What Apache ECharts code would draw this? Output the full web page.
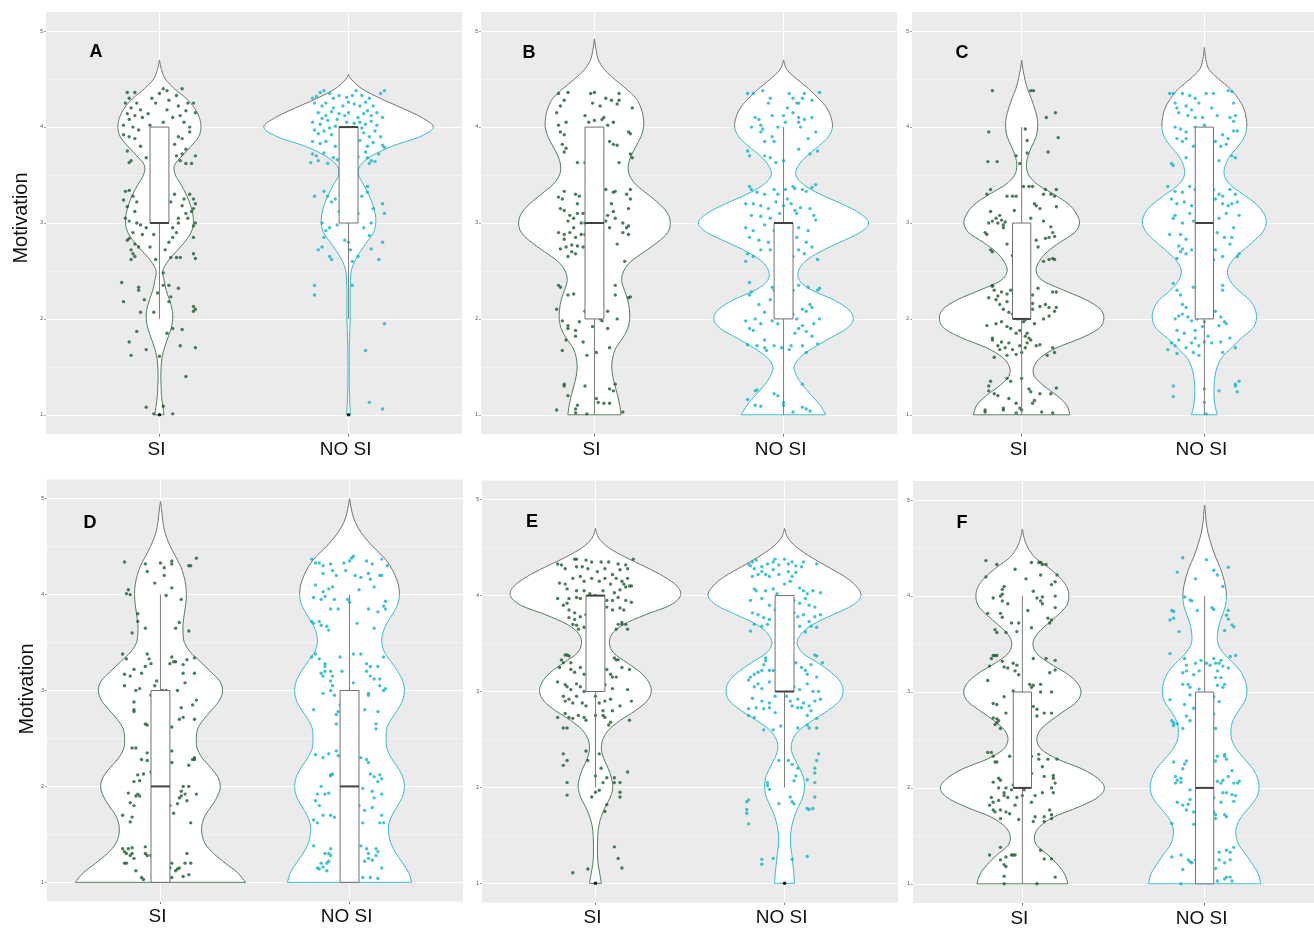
<!DOCTYPE html>
<html>
<head>
<meta charset="utf-8">
<script src="https://cdn.jsdelivr.net/npm/echarts@6/dist/echarts.min.js"></script>
<style>
html, body { margin: 0; padding: 0; background: #ffffff; }
#chart { width: 1314px; height: 928px; }
</style>
</head>
<body>
<div id="chart"></div>
<script>
// ---- groups, panels, ticks ----
const CATEGORIES = ['SI', 'NO SI'];
const PANEL_LETTERS = ['A', 'B', 'C', 'D', 'E', 'F'];
const Y_TICKS = [1, 2, 3, 4, 5];
const Y_MINOR = [1.5, 2.5, 3.5, 4.5];

// ---- violin profiles: relative density (max 256) at Motivation = 1.0, 1.1, 1.2 ... ----
const VIOLIN_A_SI   = [14,10,6,5,4,5,8,15,25,35,40,38,30,20,14,10,25,50,75,95,102,100,92,80,65,48,45,68,95,118,125,120,105,80,45,18,6];
const VIOLIN_A_NOSI = [6,4,3,2,2,2,2,2,3,4,5,5,5,5,6,8,18,35,55,75,82,80,72,60,45,30,35,70,130,215,255,220,160,95,40,8];
const VIOLIN_B_SI   = [80,76,70,62,55,52,55,65,85,100,106,105,100,90,82,88,110,150,190,220,228,220,195,160,125,105,102,110,125,140,148,147,140,125,95,60,30,12,5];
const VIOLIN_B_NOSI = [127,110,85,60,40,32,50,90,140,190,210,195,150,85,48,45,65,110,170,230,256,230,175,110,60,37,45,70,105,135,147,143,130,105,75,40,10];
const VIOLIN_C_SI   = [150,140,110,70,40,38,60,110,185,240,256,245,200,130,65,45,55,80,120,165,180,170,145,100,50,22,15,20,32,45,50,48,40,30,18,10,4];
const VIOLIN_C_NOSI = [40,33,30,30,33,40,55,85,115,150,162,158,140,105,80,72,85,115,150,180,193,185,160,120,80,62,65,80,105,125,132,130,122,105,80,45,15,5];
const VIOLIN_D_SI   = [256,232,195,160,135,125,125,135,155,172,180,172,150,125,110,108,112,130,155,178,187,178,150,120,90,72,68,68,72,76,78,76,70,60,45,30,18,10,6,3];
const VIOLIN_D_NOSI = [187,178,160,140,125,118,118,128,145,160,165,160,145,125,112,110,112,125,145,160,165,160,145,125,105,97,100,112,130,145,150,147,137,122,100,70,45,25,12,5];
const VIOLIN_E_SI   = [18,13,8,6,6,7,10,18,30,45,52,48,38,25,18,22,40,75,120,155,168,160,135,95,55,42,50,85,150,225,256,245,205,150,90,40,10];
const VIOLIN_E_NOSI = [30,28,25,22,18,18,22,30,42,55,60,57,45,30,20,25,45,85,130,165,176,168,140,100,55,38,50,85,145,205,230,215,180,130,80,38,10];
const VIOLIN_F_SI   = [142,132,110,80,45,38,55,100,175,235,256,235,185,110,60,45,55,88,130,170,183,170,135,85,45,33,45,75,110,138,145,138,115,80,40,18,6];
const VIOLIN_F_NOSI = [175,168,150,130,108,98,100,115,140,162,170,165,150,125,100,85,82,88,105,125,132,128,115,90,60,42,40,45,55,65,68,65,58,48,35,24,15,8,4,2];

// violin tip (maximum Motivation) for [SI, NO SI]
const TIP_A = [4.70, 4.55];
const TIP_B = [4.92, 4.70];
const TIP_C = [4.70, 4.83];
const TIP_D = [4.97, 5.00];
const TIP_E = [4.70, 4.70];
const TIP_F = [4.70, 4.95];

// box plots [lower whisker, Q1, median, Q3, upper whisker] for [SI, NO SI]
const BOX_A = [[2, 3, 3, 4, 4], [2, 3, 4, 4, 4]];
const BOX_B = [[1, 2, 3, 4, 4], [1, 2, 3, 3, 4]];
const BOX_C = [[1, 2, 2, 3, 4], [1, 2, 3, 4, 4]];
const BOX_D = [[1, 1, 2, 3, 4], [1, 1, 2, 3, 4]];
const BOX_E = [[2, 3, 4, 4, 4], [2, 3, 3, 4, 4]];
const BOX_F = [[1, 2, 2, 3, 4], [1, 1, 2, 3, 4]];

// outliers for [SI, NO SI]
const OUTLIERS_A = [[1], [1]];
const OUTLIERS_B = [[], []];
const OUTLIERS_C = [[], []];
const OUTLIERS_D = [[], []];
const OUTLIERS_E = [[1], [1]];
const OUTLIERS_F = [[], []];

// jittered responses: [horizontal offset from the group, Motivation]
const POINTS_A_SI = [[-0.17,4.36],[-0.13,4.36],[-0.16,4.3],[-0.18,4.25],[-0.12,4.25],[-0.15,4.2],[-0.1,4.18],[-0.17,4.14],[-0.13,4.12],[-0.09,4.1],[-0.16,4.08],[-0.19,4.02],[-0.14,4.0],[-0.11,3.97],[-0.19,3.92],[-0.16,3.9],[-0.13,3.88],[-0.1,3.8],[-0.17,3.75],[-0.15,3.65],[-0.16,3.63],[-0.07,3.68],[0.02,4.4],[0.04,4.38],[0.09,4.33],[0.12,4.4],[0.05,4.28],[0.1,4.22],[0.15,4.25],[0.18,4.25],[0.19,4.15],[0.14,4.17],[0.11,4.12],[0.07,4.1],[0.02,4.05],[-0.04,4.3],[-0.02,4.25],[0.13,4.05],[0.16,4.0],[0.16,3.95],[0.12,3.88],[0.1,3.9],[0.08,3.82],[0.14,3.77],[0.12,3.72],[0.11,3.65],[0.14,3.62],[0.17,3.62],[0.19,3.7],[0.09,3.7],[-0.05,4.02],[0.0,4.35],[-0.06,4.14],[0.04,4.18],
  [-0.19,3.24],[-0.18,3.33],[-0.16,3.34],[-0.14,3.28],[-0.12,3.22],[-0.17,3.17],[-0.13,3.12],[-0.18,3.05],[-0.16,3.02],[-0.12,3.0],[-0.1,2.98],[-0.07,2.95],[-0.14,2.9],[-0.09,2.88],[-0.16,2.84],[-0.17,2.82],[-0.13,2.78],[-0.11,2.75],[-0.15,2.72],[-0.14,2.68],[-0.13,2.65],[-0.15,2.62],[-0.03,2.88],[-0.05,2.75],[-0.02,2.62],[0.03,2.72],[0.06,2.64],[0.09,2.64],[0.11,2.64],[0.18,2.68],[0.19,2.63],[0.18,2.85],[0.19,3.0],[0.17,3.12],[0.19,3.2],[0.18,3.25],[0.16,3.3],[0.18,3.15],[0.13,3.25],[0.12,3.18],[0.14,3.1],[0.15,3.05],[0.1,3.0],[0.07,2.95],[0.05,2.8],[0.07,2.85],[0.09,2.9],[0.02,3.05],[0.04,3.15],[0.06,3.22],[0.1,3.05],[0.08,3.3],[0.18,2.97],
  [-0.2,2.38],[-0.19,2.18],[-0.11,2.33],[-0.11,2.3],[-0.08,2.2],[-0.1,2.07],[-0.12,1.87],[-0.16,1.76],[-0.15,1.62],[-0.07,1.68],[-0.03,2.07],[-0.01,2.27],[0.02,2.35],[0.05,2.35],[0.06,2.23],[0.05,2.18],[0.07,1.9],[0.04,1.85],[0.1,2.32],[0.11,1.72],[0.12,1.89],[0.18,2.13],[0.18,2.08],[0.19,2.1],[0.19,1.7],[0.0,1.61],[0.02,2.48],
  [-0.07,1.08],[0.02,1.09],[0.07,1.01],[0.14,1.4],[-0.03,1.01]];
const POINTS_A_NOSI = [[-0.19,4.3],[-0.17,4.32],[-0.15,4.36],[-0.13,4.38],[-0.1,4.35],[-0.08,4.3],[-0.05,4.33],[-0.01,4.31],[0.04,4.38],[0.07,4.33],[0.11,4.3],[0.17,4.35],[0.19,4.38],[-0.18,4.25],[-0.14,4.22],[-0.12,4.25],[-0.08,4.2],[-0.03,4.22],[0.0,4.26],[0.03,4.24],[0.06,4.22],[0.09,4.26],[0.13,4.22],[-0.16,4.15],[-0.12,4.12],[-0.09,4.16],[-0.05,4.14],[-0.02,4.12],[0.05,4.1],[0.08,4.14],[0.1,4.17],[0.12,4.12],[0.15,4.15],[-0.19,4.05],[-0.15,4.03],[-0.11,4.07],[-0.06,4.08],[-0.01,4.05],[0.03,4.04],[0.06,4.05],[0.09,4.03],[0.12,4.06],[0.15,4.02],[0.18,4.1],[-0.18,3.97],[-0.16,3.93],[-0.13,3.96],[-0.09,3.92],[-0.04,3.95],[0.01,3.9],[0.04,3.97],[0.08,3.94],[0.11,3.9],[0.14,3.96],[0.17,3.9],[-0.19,3.85],[-0.15,3.83],[-0.12,3.85],[-0.07,3.8],[-0.02,3.85],[0.02,3.82],[0.06,3.86],[0.1,3.8],[0.13,3.84],[0.18,3.81],[0.19,3.79],[-0.19,3.72],[-0.17,3.7],[-0.13,3.73],[-0.08,3.68],[-0.04,3.75],[0.01,3.72],[0.05,3.69],[0.09,3.74],[0.1,3.68],[0.12,3.65],[0.16,3.72],[-0.2,3.63],[-0.16,3.65],[-0.11,3.62],[-0.06,3.66],[0.03,3.63],[0.11,3.62],[0.14,3.64],[-0.07,4.01],[0.0,4.15],[-0.1,3.99],[0.07,3.99],[-0.14,4.09],[0.02,4.33],
  [-0.18,3.28],[-0.13,3.33],[-0.11,3.28],[-0.09,3.22],[-0.05,3.12],[-0.14,3.0],[-0.06,2.98],[-0.1,2.95],[-0.13,2.85],[-0.14,2.75],[-0.16,2.72],[-0.1,2.65],[-0.09,2.62],[-0.02,2.82],[0.0,2.8],[0.01,2.72],[0.05,2.65],[0.05,3.1],[0.1,3.38],[0.1,3.32],[0.13,3.15],[0.12,3.0],[0.11,2.87],[0.12,2.73],[0.16,2.62],[0.18,2.8],[0.19,3.1],[0.18,3.2],[0.07,3.28],[-0.03,3.3],[0.02,2.6],[-0.12,2.92],[0.08,2.95],[-0.07,3.25],
  [-0.18,2.35],[-0.18,2.25],[0.02,2.35],[0.19,1.95],[0.09,1.67],[0.11,1.13],[0.18,1.06]];
const POINTS_B_SI = [[-0.19,4.35],[-0.14,4.36],[-0.16,4.28],[-0.18,4.22],[-0.2,4.15],[-0.15,4.05],[-0.19,4.02],[-0.18,3.95],[-0.16,3.92],[-0.17,3.82],[-0.15,3.78],[-0.16,3.74],[-0.05,4.12],[-0.02,4.35],[-0.01,4.25],[0.0,4.36],[0.03,4.22],[0.06,4.3],[0.09,4.28],[0.13,4.28],[0.13,4.35],[0.12,4.24],[0.2,4.2],[0.04,4.08],[0.05,4.1],[0.07,4.02],[0.1,4.05],[-0.03,4.05],[0.0,4.07],[0.08,3.85],[0.1,3.82],[0.12,3.81],[0.18,3.95],[0.19,3.93],[0.19,3.72],[0.2,3.68],[0.13,3.63],[-0.09,3.63],[-0.05,3.63],
  [-0.19,3.27],[-0.17,3.25],[-0.16,3.33],[-0.18,3.15],[-0.16,3.13],[-0.1,3.3],[-0.08,3.28],[-0.09,3.2],[-0.13,3.08],[-0.09,3.1],[-0.11,3.05],[-0.14,3.02],[-0.19,2.9],[-0.16,2.88],[-0.13,2.9],[-0.1,2.85],[-0.07,2.88],[-0.05,2.88],[-0.18,2.73],[-0.15,2.75],[-0.12,2.77],[-0.09,2.76],[-0.06,2.75],[-0.12,2.7],[-0.1,2.68],[-0.16,2.83],[-0.14,2.65],[0.06,3.35],[0.1,3.32],[0.11,3.33],[0.09,3.2],[0.1,3.12],[0.11,3.05],[0.07,3.08],[0.06,3.02],[0.04,3.0],[0.08,2.95],[0.15,3.0],[0.17,2.95],[0.18,2.97],[0.15,2.9],[0.18,2.88],[0.18,3.15],[0.19,3.25],[0.19,3.35],[0.17,3.3],[0.16,2.6],[-0.05,3.0],[-0.03,3.35],[0.0,3.25],[0.02,2.8],[-0.11,2.95],[-0.07,3.0],[0.12,2.78],[-0.06,3.1],
  [-0.19,2.35],[-0.18,2.33],[-0.14,2.25],[-0.11,2.26],[-0.2,2.1],[-0.17,1.98],[-0.14,1.93],[-0.14,1.9],[-0.1,1.88],[-0.15,1.78],[-0.17,1.67],[-0.08,1.97],[-0.06,1.76],[-0.04,1.62],[0.01,1.65],[-0.05,2.08],[-0.01,1.92],[0.03,2.0],[0.04,1.98],[0.07,2.08],[0.07,1.9],[0.11,2.35],[0.11,2.25],[0.18,2.22],[0.19,2.23],[0.12,2.0],[0.08,1.7],[-0.1,1.82],
  [-0.16,1.3],[-0.16,1.32],[-0.05,1.3],[-0.09,1.1],[-0.1,1.06],[-0.2,1.05],[-0.1,1.02],[-0.04,1.01],[0.01,1.17],[0.02,1.13],[0.05,1.12],[0.08,1.12],[0.08,1.27],[0.1,1.25],[0.11,1.32],[0.15,1.03],[-0.14,1.2]];
const POINTS_B_NOSI = [[-0.19,4.35],[-0.16,4.35],[-0.11,4.38],[-0.07,4.3],[0.03,4.35],[0.05,4.3],[0.08,4.25],[0.1,4.3],[0.11,4.35],[0.19,4.36],[-0.15,4.1],[-0.13,4.08],[-0.12,4.02],[-0.12,3.95],[-0.11,3.98],[-0.06,4.12],[-0.06,3.9],[-0.05,3.85],[-0.03,4.0],[0.0,4.12],[0.01,4.05],[0.05,4.15],[0.08,4.1],[0.08,4.05],[0.09,4.0],[0.11,4.08],[0.15,4.1],[0.17,3.95],[0.18,3.75],[-0.19,3.75],[-0.18,3.7],[-0.1,3.7],[-0.07,3.68],[-0.04,3.63],[-0.1,3.85],[0.0,3.65],[0.08,3.77],[0.14,3.72],[0.13,3.88],[0.07,4.25],[-0.08,4.25],[0.02,4.2],[0.15,4.28],[-0.17,4.0],
  [-0.18,3.38],[-0.17,3.35],[-0.14,3.32],[-0.1,3.3],[-0.05,3.35],[-0.03,3.3],[0.01,3.35],[0.02,3.25],[0.05,3.38],[0.06,3.36],[0.1,3.35],[0.12,3.33],[0.15,3.37],[0.17,3.4],[-0.2,3.2],[-0.16,3.2],[-0.12,3.18],[-0.08,3.15],[-0.04,3.22],[0.0,3.18],[0.04,3.2],[0.06,3.13],[0.09,3.16],[0.14,3.15],[0.16,3.08],[-0.17,3.08],[-0.12,3.07],[-0.07,3.05],[-0.02,3.1],[0.07,3.1],[0.17,3.03],[-0.2,2.95],[-0.16,2.92],[-0.1,2.98],[-0.05,2.92],[-0.02,2.97],[0.08,2.95],[0.13,2.92],[-0.18,2.85],[-0.13,2.82],[-0.08,2.8],[-0.04,2.75],[-0.07,2.72],[-0.03,2.7],[0.03,2.78],[0.07,2.85],[0.12,2.8],[0.15,2.75],[-0.19,2.68],[-0.16,2.65],[-0.12,2.72],[0.05,2.65],[0.11,2.68],[0.18,2.62],[-0.2,2.6],[0.08,2.72],
  [-0.18,2.38],[-0.17,2.28],[-0.18,2.25],[-0.06,2.33],[-0.05,2.3],[0.01,2.25],[0.05,2.3],[0.08,2.35],[0.13,2.33],[0.19,2.32],[0.18,2.3],[-0.13,2.15],[-0.1,2.07],[-0.15,2.0],[-0.2,1.98],[-0.18,1.9],[-0.16,1.88],[-0.12,1.95],[-0.06,1.98],[-0.03,1.95],[0.05,2.05],[0.07,2.0],[0.1,2.1],[0.12,2.08],[0.14,2.15],[0.15,2.12],[0.19,2.0],[0.1,1.93],[0.08,1.9],[0.06,1.85],[0.12,1.87],[0.15,1.82],[-0.19,1.73],[-0.14,1.72],[-0.1,1.7],[-0.05,1.72],[-0.01,1.7],[0.03,1.68],[0.04,1.72],[0.12,1.65],[0.18,1.74],[-0.09,1.67],[-0.1,1.78],[0.1,1.72],[-0.07,2.2],[0.0,2.12],[0.16,1.95],
  [-0.19,1.16],[-0.15,1.25],[-0.14,1.26],[-0.15,1.1],[-0.12,1.09],[-0.05,1.22],[-0.03,1.2],[0.0,1.1],[0.0,1.13],[0.05,1.03],[0.1,1.08],[0.14,1.04],[0.1,1.32],[0.12,1.06]];
const POINTS_C_SI = [[-0.16,4.38],[0.05,4.38],[0.065,4.38],[0.185,4.15],[0.135,4.1],[-0.18,3.95],[0.02,3.98],[0.2,3.89],[0.03,3.86],[0.145,3.74],[0.03,3.73],[-0.185,3.64],[-0.134,3.64],[-0.03,3.7],[-0.01,3.62],
  [-0.19,3.3],[-0.17,3.35],[-0.08,3.28],[-0.05,3.28],[-0.03,3.28],[0.01,3.38],[0.04,3.38],[0.06,3.38],[0.13,3.35],[0.19,3.35],[0.16,3.3],[0.18,3.28],[0.12,3.3],[0.07,3.2],[0.08,3.18],[0.1,3.15],[0.19,3.17],[-0.17,3.12],[-0.12,3.08],[-0.18,3.0],[-0.16,3.02],[-0.14,3.05],[-0.13,3.0],[-0.11,3.03],[-0.1,2.98],[-0.09,3.01],[-0.1,2.95],[-0.19,2.88],[-0.2,2.9],[-0.04,3.13],[-0.02,2.98],[0.12,3.02],[0.16,2.96],[0.17,2.9],[0.13,2.84],[0.15,2.85],[0.18,2.86],[0.08,2.82],[0.09,2.75],[0.15,2.62],[0.18,2.62],[0.17,2.63],[0.12,2.6],[-0.17,2.72],[-0.16,2.7],[-0.05,2.66],[-0.08,2.78],[0.02,2.9],[0.05,3.05],[-0.03,2.83],
  [-0.16,2.35],[-0.16,2.34],[-0.15,2.3],[-0.13,2.24],[-0.14,2.2],[-0.18,2.22],[-0.11,2.28],[-0.08,2.26],[-0.06,2.3],[-0.03,2.32],[-0.08,2.18],[-0.12,2.15],[-0.1,2.1],[-0.07,2.07],[-0.05,2.05],[-0.04,2.08],[-0.02,2.0],[0.01,1.97],[0.02,1.99],[0.06,2.1],[0.06,2.16],[0.1,2.13],[0.13,2.15],[0.15,2.12],[0.19,2.12],[0.18,2.08],[0.15,2.03],[0.19,2.28],[0.17,2.28],[0.09,2.32],[0.06,2.25],[-0.19,1.93],[-0.14,1.95],[-0.11,1.97],[-0.08,1.92],[-0.06,1.9],[-0.03,1.85],[-0.01,1.88],[0.03,1.85],[0.04,1.8],[0.05,1.78],[0.02,1.82],[-0.16,1.8],[-0.16,1.78],[-0.11,1.76],[-0.07,1.75],[-0.01,1.72],[0.02,1.7],[0.03,1.75],[-0.13,1.72],[-0.09,1.7],[-0.12,1.68],[-0.03,1.63],[0.0,1.65],[0.08,1.72],[0.1,1.73],[0.17,1.7],[0.18,1.65],[0.14,1.62],[-0.15,1.6],[-0.08,1.62],[-0.05,1.68],[0.07,1.95],[0.12,2.0],
  [-0.17,1.35],[-0.18,1.3],[-0.18,1.25],[-0.15,1.22],[-0.13,1.2],[-0.2,1.05],[-0.2,1.03],[-0.1,1.05],[-0.1,1.07],[-0.08,1.38],[-0.06,1.35],[-0.07,1.17],[-0.03,1.12],[-0.01,1.07],[0.0,1.38],[0.0,1.05],[0.04,1.27],[0.05,1.24],[0.06,1.12],[0.07,1.15],[0.1,1.22],[0.11,1.03],[0.16,1.22],[0.19,1.28],[0.17,1.02],[-0.03,1.02]];
const POINTS_C_NOSI = [[-0.19,4.35],[-0.17,4.35],[-0.12,4.35],[-0.08,4.33],[-0.05,4.3],[0.01,4.35],[0.05,4.35],[0.13,4.38],[0.15,4.37],[0.16,4.25],[-0.16,4.25],[-0.15,4.2],[-0.1,4.22],[-0.07,4.18],[-0.03,4.25],[0.04,4.2],[-0.14,4.15],[-0.09,4.12],[-0.05,4.1],[-0.01,4.1],[0.07,4.12],[0.14,4.1],[0.17,4.12],[0.16,4.06],[0.18,3.96],[0.16,3.96],[-0.16,4.0],[-0.13,3.98],[-0.1,3.95],[-0.05,4.0],[0.0,4.02],[0.03,3.98],[0.1,3.92],[0.13,3.88],[-0.15,3.88],[-0.12,3.85],[-0.1,3.88],[-0.06,3.8],[-0.02,3.82],[0.06,3.85],[0.09,3.8],[0.12,3.82],[0.15,3.7],[0.17,3.68],[-0.18,3.62],[-0.1,3.68],[-0.04,3.72],[0.02,3.7],[-0.17,3.6],[0.08,3.65],
  [-0.2,3.38],[-0.16,3.33],[-0.12,3.32],[-0.08,3.38],[-0.05,3.35],[-0.02,3.32],[0.05,3.35],[0.08,3.3],[0.1,3.28],[0.14,3.35],[0.17,3.3],[-0.18,3.25],[-0.15,3.2],[-0.11,3.22],[-0.07,3.18],[0.06,3.25],[0.1,3.2],[0.13,3.18],[0.15,3.2],[0.18,3.22],[-0.17,3.05],[-0.16,3.08],[-0.12,3.0],[-0.06,3.02],[-0.04,2.95],[-0.03,2.98],[0.08,3.05],[0.12,3.1],[0.19,3.08],[-0.19,2.88],[-0.13,2.88],[-0.1,2.83],[-0.14,2.76],[-0.12,2.73],[-0.13,2.7],[-0.1,2.68],[-0.07,2.72],[-0.02,2.78],[0.07,2.9],[0.11,2.85],[0.15,2.85],[0.14,2.78],[0.06,2.72],[0.1,2.65],[0.18,2.65],[0.19,2.68],[-0.15,2.63],[0.05,2.62],[0.03,2.95],[-0.08,3.1],[0.16,2.95],
  [-0.17,2.37],[-0.15,2.3],[-0.13,2.25],[-0.06,2.33],[0.02,2.22],[0.04,2.25],[0.1,2.35],[0.1,2.3],[-0.12,2.15],[-0.1,2.12],[-0.14,2.03],[-0.16,2.0],[-0.12,2.05],[-0.09,2.02],[-0.07,1.98],[-0.04,2.0],[0.0,1.97],[0.06,2.08],[0.09,2.02],[0.11,1.97],[0.12,1.95],[0.08,1.93],[0.14,1.8],[0.17,1.7],[-0.15,1.88],[-0.11,1.85],[-0.05,1.88],[-0.01,1.92],[0.02,1.82],[-0.18,1.75],[-0.16,1.72],[-0.14,1.78],[-0.1,1.7],[-0.07,1.75],[-0.05,1.8],[-0.03,1.72],[0.0,1.76],[0.04,1.75],[0.09,1.76],[-0.2,1.68],[-0.15,1.64],[-0.06,1.65],[-0.03,1.62],[0.1,1.65],
  [-0.17,1.3],[-0.17,1.19],[0.0,1.27],[0.0,1.13],[0.01,1.01],[0.08,1.25],[0.17,1.32],[0.17,1.3],[0.18,1.24],[0.19,1.35]];
const POINTS_D_SI = [[-0.19,4.34],[-0.08,4.32],[0.0,4.33],[0.02,4.28],[0.06,4.35],[0.06,4.32],[0.15,4.3],[0.16,4.3],[0.19,4.38],[-0.07,4.24],[0.02,4.2],[-0.18,4.01],[-0.17,4.05],[-0.16,4.0],[-0.12,3.8],[-0.12,3.72],[0.06,4.07],[0.11,3.95],[0.03,3.99],[-0.03,4.12],[0.1,3.71],[0.08,3.65],[-0.08,3.65],[-0.15,3.6],[0.15,3.62],
  [-0.2,3.38],[-0.18,3.33],[-0.19,3.17],[-0.16,3.15],[-0.19,3.05],[-0.14,3.22],[-0.07,3.38],[-0.06,3.33],[-0.05,3.28],[-0.08,3.25],[-0.1,3.18],[-0.11,3.02],[-0.13,3.0],[-0.14,2.88],[-0.14,2.8],[-0.14,2.78],[-0.08,2.65],[-0.07,2.64],[-0.03,3.05],[-0.02,3.1],[0.01,3.0],[0.03,3.0],[0.06,3.35],[0.07,3.3],[0.05,3.28],[0.08,3.3],[0.12,3.27],[0.12,3.18],[0.14,3.32],[0.18,3.34],[0.18,3.18],[0.13,3.08],[0.17,2.85],[0.11,2.82],[0.12,2.72],[0.1,2.7],[0.18,2.7],[0.19,2.9],[0.06,2.62],[-0.05,2.95],[0.09,3.0],
  [-0.15,2.4],[-0.13,2.4],[-0.1,2.28],[-0.12,2.12],[-0.09,2.13],[-0.14,2.05],[-0.11,2.06],[-0.17,1.93],[-0.16,1.83],[-0.14,1.8],[-0.13,1.9],[-0.12,1.92],[-0.11,1.9],[-0.2,1.7],[-0.15,1.68],[-0.16,1.63],[-0.07,2.35],[-0.07,2.27],[-0.05,2.15],[-0.03,1.78],[0.06,2.37],[0.06,2.25],[0.05,1.8],[0.07,1.72],[0.11,1.95],[0.11,1.9],[0.13,1.92],[0.14,1.85],[0.1,1.88],[0.12,2.0],[0.15,2.0],[0.18,2.3],[0.18,2.28],[0.17,2.28],[0.15,2.22],[0.19,1.92],[0.16,1.62],[0.09,1.82],[-0.04,2.1],
  [-0.2,1.35],[-0.19,1.32],[-0.18,1.3],[-0.17,1.35],[-0.15,1.36],[-0.15,1.3],[-0.14,1.25],[-0.16,1.28],[-0.19,1.2],[-0.18,1.2],[-0.13,1.12],[-0.1,1.05],[-0.09,1.03],[-0.08,1.3],[-0.07,1.28],[-0.08,1.37],[0.06,1.2],[0.05,1.15],[0.06,1.05],[0.08,1.12],[0.1,1.15],[0.13,1.2],[0.14,1.3],[0.15,1.08],[0.16,1.2],[-0.05,1.28],[0.09,1.14],[0.12,1.06]];
const POINTS_D_NOSI = [[-0.2,4.37],[-0.18,4.33],[-0.16,4.33],[-0.14,4.3],[-0.1,4.32],[-0.03,4.33],[0.0,4.35],[0.01,4.38],[0.02,4.4],[0.09,4.35],[0.12,4.32],[0.17,4.37],[0.2,4.3],[-0.14,4.22],[-0.09,4.25],[-0.07,4.2],[-0.02,4.25],[0.03,4.2],[0.06,4.18],[0.1,4.22],[0.11,4.16],[0.16,4.2],[0.17,4.2],[-0.18,4.1],[-0.11,4.06],[-0.09,4.08],[-0.13,3.98],[-0.15,3.95],[-0.19,3.97],[-0.14,4.03],[-0.08,3.95],[-0.01,3.95],[0.0,3.92],[0.05,4.05],[0.1,3.85],[0.13,4.08],[0.15,3.82],[0.19,3.93],[0.18,3.88],[0.19,3.85],[-0.2,3.72],[-0.19,3.7],[-0.16,3.72],[-0.15,3.68],[-0.12,3.67],[-0.11,3.63],[0.04,3.7],[0.13,3.65],[-0.1,3.85],[-0.06,3.85],
  [-0.2,3.35],[-0.18,3.38],[-0.16,3.33],[-0.13,3.28],[-0.13,3.25],[-0.14,3.15],[-0.15,3.18],[-0.13,3.2],[-0.1,3.2],[-0.09,3.15],[-0.1,3.1],[-0.09,3.05],[-0.1,3.0],[-0.14,2.97],[-0.19,2.8],[-0.05,3.35],[-0.04,3.2],[-0.05,2.85],[-0.06,2.78],[-0.07,2.75],[-0.07,2.65],[0.02,3.08],[0.02,3.38],[0.06,3.38],[0.09,3.28],[0.09,3.2],[0.11,3.25],[0.11,3.15],[0.13,3.12],[0.15,3.25],[0.16,3.05],[0.18,3.0],[0.19,3.02],[0.1,2.97],[0.1,2.95],[0.08,2.8],[0.15,2.78],[0.14,2.65],[0.14,2.6],[0.16,3.12],[0.18,3.35],[-0.08,2.95],
  [-0.18,2.33],[-0.14,2.3],[-0.11,2.34],[-0.07,2.37],[-0.06,2.32],[-0.1,2.12],[-0.1,2.11],[-0.09,2.13],[-0.15,2.0],[-0.17,1.92],[-0.13,1.92],[-0.11,1.93],[-0.18,1.85],[-0.16,1.8],[-0.14,1.7],[-0.19,1.65],[-0.17,1.62],[-0.1,1.7],[-0.08,1.68],[-0.04,2.17],[-0.03,1.98],[0.06,2.3],[0.09,2.28],[0.1,2.25],[0.11,2.13],[0.13,2.1],[0.16,2.12],[0.17,2.08],[0.15,2.05],[0.03,1.95],[0.07,1.98],[0.12,1.95],[0.13,1.88],[0.17,1.92],[0.05,1.8],[0.08,1.75],[0.12,1.78],[0.17,1.7],[0.16,1.62],[0.18,1.62],[0.07,1.62],[0.03,2.2],
  [-0.19,1.38],[-0.17,1.15],[-0.16,1.14],[-0.15,1.2],[-0.14,1.16],[-0.12,1.12],[-0.12,1.2],[-0.11,1.22],[-0.11,1.3],[-0.13,1.3],[-0.1,1.35],[-0.1,1.28],[0.06,1.38],[0.09,1.35],[0.1,1.3],[0.1,1.25],[0.12,1.23],[0.14,1.28],[0.15,1.32],[0.14,1.35],[0.17,1.15],[0.07,1.05],[0.11,1.05],[0.15,1.04],[0.08,1.22],[-0.01,1.18],[0.01,1.17]];
const POINTS_E_SI = [[-0.2,4.33],[-0.18,4.32],[-0.16,4.28],[-0.11,4.38],[-0.1,4.38],[-0.05,4.37],[-0.02,4.35],[0.03,4.35],[0.07,4.35],[0.12,4.33],[0.16,4.32],[0.2,4.38],[-0.1,4.3],[-0.07,4.3],[-0.04,4.28],[0.01,4.25],[0.05,4.28],[0.09,4.22],[0.13,4.27],[0.17,4.28],[-0.19,4.13],[-0.16,4.12],[-0.12,4.18],[-0.08,4.2],[-0.06,4.15],[-0.02,4.18],[0.02,4.15],[0.05,4.18],[0.08,4.12],[0.11,4.18],[0.14,4.15],[0.17,4.18],[0.18,4.1],[0.15,4.12],[-0.15,4.07],[-0.1,4.05],[-0.06,4.05],[-0.03,4.02],[0.0,4.0],[0.04,4.05],[0.1,4.03],[0.13,4.06],[0.16,4.09],[0.19,4.1],[-0.2,3.97],[-0.14,3.97],[-0.1,3.98],[-0.08,3.97],[0.06,3.95],[0.09,3.95],[0.12,3.98],[0.16,3.95],[0.19,3.93],[-0.17,3.9],[-0.14,3.85],[-0.11,3.82],[-0.08,3.78],[0.06,3.88],[0.09,3.85],[0.13,3.87],[0.15,3.85],[-0.14,3.77],[-0.11,3.75],[-0.05,3.8],[0.14,3.72],[0.14,3.7],[0.16,3.7],[0.17,3.65],[-0.1,3.69],[-0.06,3.67],[-0.09,3.65],[-0.12,3.7],[0.12,3.7],[0.11,3.65],[-0.15,3.92],
  [-0.16,3.38],[-0.15,3.38],[-0.14,3.37],[-0.18,3.33],[-0.17,3.3],[-0.13,3.3],[-0.19,3.25],[-0.13,3.23],[-0.11,3.2],[-0.08,3.25],[-0.06,3.18],[-0.03,3.2],[-0.02,3.27],[0.01,3.25],[0.06,3.23],[0.08,3.18],[0.09,3.15],[0.11,3.15],[0.11,3.33],[0.1,3.35],[0.12,3.33],[0.14,3.25],[0.18,3.23],[-0.2,3.1],[-0.16,3.07],[-0.15,3.05],[-0.13,3.02],[-0.1,3.08],[-0.08,3.05],[-0.06,3.0],[-0.03,3.1],[0.02,3.1],[0.05,3.07],[0.09,3.03],[0.17,3.02],[-0.17,2.95],[-0.16,2.9],[-0.14,2.92],[-0.12,2.88],[-0.1,2.95],[-0.07,2.88],[-0.05,2.85],[0.0,2.95],[0.02,2.88],[0.05,2.9],[0.08,2.92],[0.13,2.85],[0.19,2.9],[-0.2,2.73],[-0.16,2.77],[-0.14,2.73],[-0.12,2.72],[-0.09,2.75],[-0.06,2.73],[0.0,2.75],[0.04,2.75],[0.05,2.73],[0.08,2.68],[0.07,2.65],[0.18,2.7],[-0.17,2.62],[-0.15,2.62],[-0.05,2.7],[0.04,2.8],[0.09,2.8],
  [-0.17,2.35],[-0.17,2.23],[-0.15,2.28],[-0.15,2.05],[-0.15,1.92],[-0.05,2.38],[-0.04,2.28],[0.0,2.12],[0.0,1.95],[-0.02,1.9],[0.02,1.97],[0.02,2.35],[0.03,2.2],[0.04,2.05],[0.06,1.82],[0.05,1.75],[0.1,2.05],[0.1,2.1],[0.13,2.05],[0.13,1.95],[0.13,1.9],[0.17,2.16],[0.06,2.1],
  [-0.12,1.11],[-0.04,1.15],[0.1,1.38],[0.12,1.26],[0.14,1.16]];
const POINTS_E_NOSI = [[-0.19,4.33],[-0.18,4.31],[-0.17,4.35],[-0.15,4.37],[-0.12,4.3],[-0.09,4.33],[-0.06,4.35],[-0.05,4.38],[-0.03,4.32],[0.0,4.38],[0.02,4.33],[0.04,4.35],[0.06,4.31],[0.09,4.3],[0.1,4.35],[0.17,4.33],[-0.16,4.28],[-0.12,4.25],[-0.1,4.22],[-0.06,4.27],[-0.03,4.22],[0.02,4.25],[0.04,4.2],[0.06,4.24],[-0.17,4.2],[-0.14,4.22],[-0.08,4.2],[0.0,4.12],[0.03,4.15],[-0.16,4.07],[-0.15,4.05],[-0.1,4.05],[-0.06,4.07],[-0.04,4.02],[0.08,4.08],[0.1,4.05],[0.12,4.02],[0.15,4.05],[0.19,4.03],[-0.18,3.95],[-0.12,3.97],[-0.08,3.9],[0.05,3.95],[0.08,3.92],[0.11,3.97],[0.13,3.9],[0.16,3.88],[-0.17,3.82],[-0.14,3.8],[-0.11,3.77],[-0.08,3.75],[-0.05,3.85],[0.05,3.82],[0.07,3.78],[0.1,3.8],[0.13,3.73],[0.16,3.78],[0.19,3.8],[-0.16,3.7],[-0.12,3.68],[-0.09,3.7],[0.08,3.68],[0.14,3.68],[0.17,3.67],[-0.18,3.63],[0.11,3.62],[0.03,3.72],
  [-0.1,3.35],[-0.1,3.32],[-0.11,3.28],[-0.08,3.22],[-0.12,3.22],[-0.14,3.2],[-0.16,3.18],[-0.18,3.15],[-0.19,3.12],[-0.06,3.22],[-0.03,3.2],[0.06,3.3],[0.09,3.25],[0.11,3.22],[0.14,3.28],[0.16,3.38],[0.17,3.37],[0.2,3.3],[0.12,3.18],[0.17,3.15],[-0.16,3.05],[-0.14,3.08],[-0.12,3.03],[-0.08,3.1],[-0.04,3.05],[-0.01,3.02],[0.05,3.05],[0.08,3.02],[0.12,3.08],[0.15,3.0],[0.18,3.0],[-0.17,2.93],[-0.12,2.9],[-0.08,2.88],[-0.05,2.95],[0.01,2.95],[0.03,2.9],[0.07,2.92],[0.1,2.88],[0.13,2.85],[0.16,2.9],[0.19,2.92],[-0.19,2.82],[-0.15,2.83],[-0.11,2.82],[-0.08,2.83],[-0.05,2.78],[0.04,2.85],[0.07,2.83],[0.09,2.83],[0.12,2.75],[0.14,2.8],[0.17,2.72],[-0.19,2.75],[-0.16,2.73],[-0.11,2.6],[-0.06,2.6],[-0.02,2.64],[0.12,2.65],[0.13,2.62],[0.17,2.62],[0.07,2.62],
  [0.18,2.35],[0.17,2.28],[0.16,2.2],[0.16,2.15],[-0.03,2.28],[0.02,2.28],[0.04,2.24],[0.07,2.2],[0.06,2.12],[0.05,2.07],[0.12,2.08],[0.16,2.05],[-0.09,2.05],[-0.09,2.02],[-0.08,1.98],[0.03,1.9],[0.04,1.85],[0.05,1.83],[-0.03,1.83],[0.12,1.78],[0.13,1.77],[0.16,1.9],[-0.19,1.87],[-0.2,1.85],[-0.2,1.77],[-0.2,1.73],[-0.19,1.62],[0.15,1.78],
  [-0.12,1.25],[-0.12,1.2],[-0.06,1.26],[0.04,1.25],[0.12,1.28]];
const POINTS_F_SI = [[-0.2,4.37],[-0.14,4.33],[-0.2,4.2],[-0.04,4.28],[0.09,4.35],[0.1,4.35],[0.11,4.33],[0.13,4.33],[0.1,4.22],[0.19,4.22],[0.18,4.15],[0.16,4.12],[0.02,4.18],[0.05,4.35],[-0.1,4.1],[-0.11,4.07],[-0.11,4.02],[-0.12,4.0],[-0.16,3.98],[-0.11,3.95],[-0.08,3.92],[0.06,4.05],[0.08,3.98],[0.1,3.95],[0.11,3.92],[0.11,3.99],[0.18,4.0],[0.18,3.88],[0.03,3.85],[-0.19,3.82],[-0.12,3.82],[-0.11,3.78],[0.14,3.77],[0.16,3.75],[0.15,3.72],[-0.06,3.72],[-0.02,3.72],[-0.03,3.63],[-0.15,3.65],[-0.14,3.62],[-0.09,3.62],[0.05,3.67],
  [-0.17,3.35],[-0.16,3.38],[-0.15,3.38],[-0.14,3.38],[-0.18,3.27],[-0.11,3.32],[-0.1,3.26],[-0.08,3.25],[-0.05,3.3],[-0.03,3.28],[-0.04,3.22],[-0.02,3.18],[0.06,3.35],[0.13,3.35],[0.18,3.33],[0.18,3.23],[0.15,3.2],[-0.19,3.12],[0.1,3.08],[0.06,3.07],[0.04,3.08],[0.05,3.05],[0.1,3.0],[0.16,3.0],[-0.05,3.01],[-0.04,2.98],[-0.16,2.88],[-0.14,2.87],[-0.16,2.73],[-0.14,2.72],[-0.14,2.68],[-0.13,2.7],[-0.15,2.66],[-0.12,2.62],[-0.09,2.78],[0.06,2.85],[0.08,2.82],[0.08,2.75],[0.12,2.78],[0.16,2.78],[0.04,2.68],[0.0,2.9],[-0.1,2.95],
  [-0.19,2.37],[-0.17,2.37],[-0.16,2.33],[-0.15,2.27],[-0.14,2.27],[-0.07,2.33],[0.05,2.33],[0.09,2.35],[0.09,2.3],[0.14,2.3],[0.19,2.3],[0.11,2.22],[0.05,2.15],[0.04,2.1],[0.12,2.12],[0.17,2.13],[0.17,2.1],[0.18,2.05],[-0.13,2.1],[-0.12,2.08],[-0.16,2.06],[-0.13,2.0],[-0.09,2.0],[-0.06,1.98],[-0.05,2.03],[-0.02,2.02],[0.01,1.98],[-0.1,1.95],[-0.1,1.92],[-0.08,1.9],[-0.03,1.9],[0.0,1.92],[0.07,1.92],[0.11,1.95],[0.17,1.95],[0.16,2.0],[-0.17,1.9],[-0.16,1.85],[-0.18,1.82],[-0.13,1.87],[-0.04,1.82],[0.05,1.85],[-0.16,1.77],[-0.15,1.75],[-0.12,1.77],[-0.09,1.75],[-0.07,1.73],[-0.12,1.68],[0.07,1.7],[0.12,1.7],[0.15,1.77],[0.16,1.72],[0.16,1.68],[0.12,1.65],[0.06,1.65],[-0.02,1.67],
  [-0.18,1.3],[-0.12,1.38],[-0.12,1.25],[-0.1,1.2],[-0.09,1.18],[-0.06,1.3],[-0.05,1.3],[-0.04,1.3],[-0.09,1.28],[-0.1,1.08],[-0.1,1.0],[0.1,1.35],[0.12,1.26],[0.16,1.26],[0.18,1.07],[0.08,1.0]];
const POINTS_F_NOSI = [[-0.12,4.4],[0.01,4.38],[-0.15,4.25],[-0.05,4.18],[0.05,4.27],[0.07,4.22],[0.13,4.3],[0.1,4.1],[-0.11,3.99],[-0.08,3.96],[-0.07,3.95],[0.04,3.88],[0.05,3.86],[-0.18,3.85],[-0.17,3.84],[-0.19,3.75],[-0.17,3.77],[-0.14,3.63],[0.13,3.85],[0.13,3.76],[0.15,3.7],[0.16,3.68],[0.12,3.8],[0.11,3.64],[-0.04,3.85],
  [-0.19,3.4],[-0.11,3.35],[-0.1,3.28],[-0.12,3.2],[-0.1,3.22],[-0.06,3.18],[-0.05,3.3],[-0.03,3.22],[-0.02,3.33],[0.01,3.3],[0.03,3.28],[0.05,3.35],[0.06,3.3],[0.08,3.3],[0.09,3.33],[0.1,3.27],[0.14,3.37],[0.17,3.38],[0.13,3.25],[0.07,3.22],[0.06,3.15],[0.09,3.15],[0.11,3.08],[0.1,3.05],[0.07,3.07],[-0.09,3.08],[-0.12,3.08],[-0.08,3.05],[-0.03,3.03],[-0.04,2.96],[-0.08,2.97],[0.05,2.95],[-0.19,2.92],[-0.11,2.87],[-0.06,2.83],[-0.04,2.8],[-0.1,2.75],[0.04,2.82],[0.05,2.77],[-0.18,2.7],[-0.17,2.68],[-0.17,2.65],[-0.15,2.67],[-0.12,2.62],[-0.08,2.7],[0.03,2.65],[0.06,2.62],[-0.01,2.75],[0.08,2.9],
  [0.04,2.38],[0.11,2.35],[0.11,2.33],[0.07,2.33],[0.06,2.28],[0.12,2.3],[-0.17,2.27],[-0.11,2.25],[-0.1,2.28],[-0.12,2.2],[0.15,2.18],[-0.16,2.12],[-0.15,2.08],[-0.13,2.1],[-0.16,2.05],[-0.13,2.06],[0.07,2.07],[0.09,2.05],[0.1,2.08],[0.13,2.12],[0.16,2.05],[0.18,2.05],[0.19,2.07],[-0.08,1.98],[-0.04,1.95],[0.1,1.95],[0.12,1.95],[0.15,1.93],[0.17,1.92],[-0.15,1.85],[-0.12,1.82],[-0.08,1.88],[-0.09,1.83],[0.05,1.9],[0.09,1.85],[0.16,1.86],[-0.1,1.77],[-0.06,1.75],[0.05,1.75],[0.11,1.72],[0.12,1.7],[0.06,1.72],[0.06,1.68],[-0.18,1.63],[-0.06,1.62],[0.0,1.7],[-0.02,1.8],
  [-0.18,1.28],[-0.13,1.3],[-0.09,1.25],[-0.08,1.23],[-0.05,1.25],[-0.07,1.22],[-0.12,1.15],[-0.04,1.1],[-0.13,1.0],[0.08,1.33],[0.12,1.35],[0.16,1.38],[0.14,1.33],[0.08,1.25],[0.14,1.25],[0.11,1.22],[0.12,1.07],[0.14,1.07],[0.11,1.05],[0.15,1.03],[0.07,1.03],[-0.02,1.1],[0.06,1.16]];

// ---- per-panel table assembled from the arrays above ----
const PANELS = [
  { violins: [VIOLIN_A_SI, VIOLIN_A_NOSI], tips: TIP_A, boxes: BOX_A, outliers: OUTLIERS_A, points: [POINTS_A_SI, POINTS_A_NOSI] },
  { violins: [VIOLIN_B_SI, VIOLIN_B_NOSI], tips: TIP_B, boxes: BOX_B, outliers: OUTLIERS_B, points: [POINTS_B_SI, POINTS_B_NOSI] },
  { violins: [VIOLIN_C_SI, VIOLIN_C_NOSI], tips: TIP_C, boxes: BOX_C, outliers: OUTLIERS_C, points: [POINTS_C_SI, POINTS_C_NOSI] },
  { violins: [VIOLIN_D_SI, VIOLIN_D_NOSI], tips: TIP_D, boxes: BOX_D, outliers: OUTLIERS_D, points: [POINTS_D_SI, POINTS_D_NOSI] },
  { violins: [VIOLIN_E_SI, VIOLIN_E_NOSI], tips: TIP_E, boxes: BOX_E, outliers: OUTLIERS_E, points: [POINTS_E_SI, POINTS_E_NOSI] },
  { violins: [VIOLIN_F_SI, VIOLIN_F_NOSI], tips: TIP_F, boxes: BOX_F, outliers: OUTLIERS_F, points: [POINTS_F_SI, POINTS_F_NOSI] }
];

// ---- layout and style ----
const GRID_POS = [[46, 12], [481, 12], [912, 12], [47, 479.5], [482, 480.5], [913, 481]];
const GRID_W = 416, GRID_H = 422;
const LETTER_POS = [[96, 52], [529, 53], [962, 53], [90, 523], [532, 522], [962, 523]];
const FONT = '"Liberation Sans", Arial, sans-serif';
const POINT_COLORS = ['#1F5A33', '#13B4C3'];
const OUTLINE_COLORS = ['#537E5C', '#35BDC9'];
const OUTLINE_TOP = '#747474';
const DENS_MAX = 256, MAX_HALF = 0.45, DENS_STEP = 0.1, SPLIT_Y = 4;
const BOX_HALF = 0.05;

// Catmull-Rom segments through pixel points, as cubic Bezier pieces
function bezierSegs(pts) {
  const segs = [];
  for (let i = 0; i < pts.length - 1; i++) {
    const p0 = pts[i - 1] || pts[i], p1 = pts[i], p2 = pts[i + 1], p3 = pts[i + 2] || pts[i + 1];
    segs.push({
      from: p1,
      c1: [p1[0] + (p2[0] - p0[0]) / 6, p1[1] + (p2[1] - p0[1]) / 6],
      c2: [p2[0] - (p3[0] - p1[0]) / 6, p2[1] - (p3[1] - p1[1]) / 6],
      to: p2
    });
  }
  return segs;
}
const f = v => v.toFixed(2);
function fwd(s) { return 'C' + f(s.c1[0]) + ' ' + f(s.c1[1]) + ' ' + f(s.c2[0]) + ' ' + f(s.c2[1]) + ' ' + f(s.to[0]) + ' ' + f(s.to[1]); }
function back(s) { return 'C' + f(s.c2[0]) + ' ' + f(s.c2[1]) + ' ' + f(s.c1[0]) + ' ' + f(s.c1[1]) + ' ' + f(s.from[0]) + ' ' + f(s.from[1]); }
function pt(p) { return f(p[0]) + ' ' + f(p[1]); }

function violinRenderer(panel) {
  return function (params, api) {
    const g = params.dataIndex;
    const dens = panel.violins[g];
    const tip = panel.tips[g];
    const cx = g + 1;
    const R = [], L = [];
    dens.forEach((d, i) => {
      const y = 1 + i * DENS_STEP;
      const w = d / DENS_MAX * MAX_HALF;
      R.push(api.coord([cx + w, y]));
      L.push(api.coord([cx - w, y]));
    });
    const tipPt = api.coord([cx, tip]);
    R.push(tipPt); L.push(tipPt);
    const sR = bezierSegs(R), sL = bezierSegs(L);
    const k = Math.round((SPLIT_Y - 1) / DENS_STEP);

    let fill = 'M' + pt(L[0]) + 'L' + pt(R[0]);
    sR.forEach(s => { fill += fwd(s); });
    for (let i = sL.length - 1; i >= 0; i--) fill += back(sL[i]);
    fill += 'Z';

    let lower = 'M' + pt(L[k]);
    for (let i = k - 1; i >= 0; i--) lower += back(sL[i]);
    lower += 'L' + pt(R[0]);
    for (let i = 0; i < k; i++) lower += fwd(sR[i]);

    let upper = 'M' + pt(L[k]);
    for (let i = k; i < sL.length; i++) upper += fwd(sL[i]);
    for (let i = sR.length - 1; i >= k; i--) upper += back(sR[i]);

    return {
      type: 'group',
      children: [
        { type: 'path', shape: { pathData: fill }, style: { fill: '#ffffff', stroke: null } },
        { type: 'path', shape: { pathData: lower }, style: { fill: null, stroke: OUTLINE_COLORS[g], lineWidth: 1 } },
        { type: 'path', shape: { pathData: upper }, style: { fill: null, stroke: OUTLINE_TOP, lineWidth: 1 } }
      ]
    };
  };
}

function boxRenderer(panel) {
  return function (params, api) {
    const g = params.dataIndex;
    const [lw, q1, med, q3, uw] = panel.boxes[g];
    const cx = g + 1;
    const tl = api.coord([cx - BOX_HALF, q3]);
    const br = api.coord([cx + BOX_HALF, q1]);
    const mL = api.coord([cx - BOX_HALF, med]);
    const mR = api.coord([cx + BOX_HALF, med]);
    const c = api.coord([cx, 0]);
    const yLw = api.coord([cx, lw])[1], yUw = api.coord([cx, uw])[1];
    const children = [];
    if (uw > q3) children.push({ type: 'line', shape: { x1: c[0], y1: tl[1], x2: c[0], y2: yUw }, style: { stroke: '#7c7c7c', lineWidth: 1 } });
    if (lw < q1) children.push({ type: 'line', shape: { x1: c[0], y1: br[1], x2: c[0], y2: yLw }, style: { stroke: '#7c7c7c', lineWidth: 1 } });
    children.push({ type: 'rect', shape: { x: tl[0], y: tl[1], width: br[0] - tl[0], height: br[1] - tl[1] }, style: { fill: '#ffffff', stroke: '#707070', lineWidth: 1 } });
    children.push({ type: 'line', shape: { x1: mL[0], y1: mL[1], x2: mR[0], y2: mR[1] }, style: { stroke: '#424242', lineWidth: 2 } });
    panel.outliers[g].forEach(v => {
      const p = api.coord([cx, v]);
      children.push({ type: 'circle', shape: { cx: p[0], cy: p[1], r: 1.8 }, style: { fill: '#1a1a1a' } });
    });
    return { type: 'group', children };
  };
}

const gridLineData = []
  .concat(Y_TICKS.map(v => ({ yAxis: v, lineStyle: { color: '#ffffff', width: 1.1, type: 'solid' } })))
  .concat(Y_MINOR.map(v => ({ yAxis: v, lineStyle: { color: '#f6f6f6', width: 0.7, type: 'solid' } })))
  .concat([1, 2].map(v => ({ xAxis: v, lineStyle: { color: '#ffffff', width: 1.1, type: 'solid' } })));

const grids = [], xAxes = [], yAxes = [], series = [], graphics = [];

PANELS.forEach((panel, i) => {
  grids.push({
    left: GRID_POS[i][0], top: GRID_POS[i][1], width: GRID_W, height: GRID_H,
    show: true, backgroundColor: '#EBEBEB', borderWidth: 0, containLabel: false
  });
  xAxes.push({
    type: 'value', gridIndex: i, min: 0.4, max: 2.6,
    axisLine: { show: false }, splitLine: { show: false },
    axisTick: { show: true, customValues: [1, 2], length: 2.5, lineStyle: { color: '#555555', width: 0.8 } },
    axisLabel: {
      customValues: [1, 2], formatter: v => CATEGORIES[Math.round(v) - 1],
      fontSize: 19, color: '#111111', margin: 6, fontFamily: FONT, padding: [0, 6, 0, 0]
    }
  });
  yAxes.push({
    type: 'value', gridIndex: i, min: 0.8, max: 5.2,
    axisLine: { show: false }, splitLine: { show: false },
    axisTick: { show: true, customValues: Y_TICKS, length: 2, lineStyle: { color: '#666666', width: 0.6 } },
    axisLabel: { customValues: Y_TICKS, fontSize: 5, color: '#4d4d4d', margin: 3, fontFamily: FONT }
  });
  series.push({
    type: 'custom', xAxisIndex: i, yAxisIndex: i, z: 2, silent: true,
    data: [0, 1], renderItem: violinRenderer(panel)
  });
  panel.points.forEach((pts, g) => {
    series.push({
      type: 'scatter', xAxisIndex: i, yAxisIndex: i, z: 3, silent: true,
      symbol: 'circle', symbolSize: 3.4,
      itemStyle: { color: POINT_COLORS[g] },
      data: pts.map(p => [g + 1 + p[0], p[1]]),
      markLine: g === 0 ? {
        silent: true, z: 1, symbol: ['none', 'none'], label: { show: false },
        emphasis: { disabled: true }, animation: false, data: gridLineData
      } : undefined
    });
  });
  series.push({
    type: 'custom', xAxisIndex: i, yAxisIndex: i, z: 4, silent: true,
    data: [0, 1], renderItem: boxRenderer(panel)
  });
  graphics.push({
    type: 'text', x: LETTER_POS[i][0], y: LETTER_POS[i][1], z: 10,
    style: { text: PANEL_LETTERS[i], fontSize: 18, fontWeight: 'bold', fontFamily: FONT, fill: '#000000', align: 'center', verticalAlign: 'middle' }
  });
});

// y-axis titles of the two rows
[[21, 218], [27, 689]].forEach(p => {
  graphics.push({
    type: 'text', x: p[0], y: p[1], rotation: Math.PI / 2, z: 10,
    style: { text: 'Motivation', fontSize: 20, fontFamily: FONT, fill: '#111111', align: 'center', verticalAlign: 'middle' }
  });
});

const chart = echarts.init(document.getElementById('chart'), null, { renderer: 'canvas' });
chart.setOption({
  animation: false,
  backgroundColor: '#ffffff',
  grid: grids,
  xAxis: xAxes,
  yAxis: yAxes,
  series: series,
  graphic: graphics
});
</script>
</body>
</html>
